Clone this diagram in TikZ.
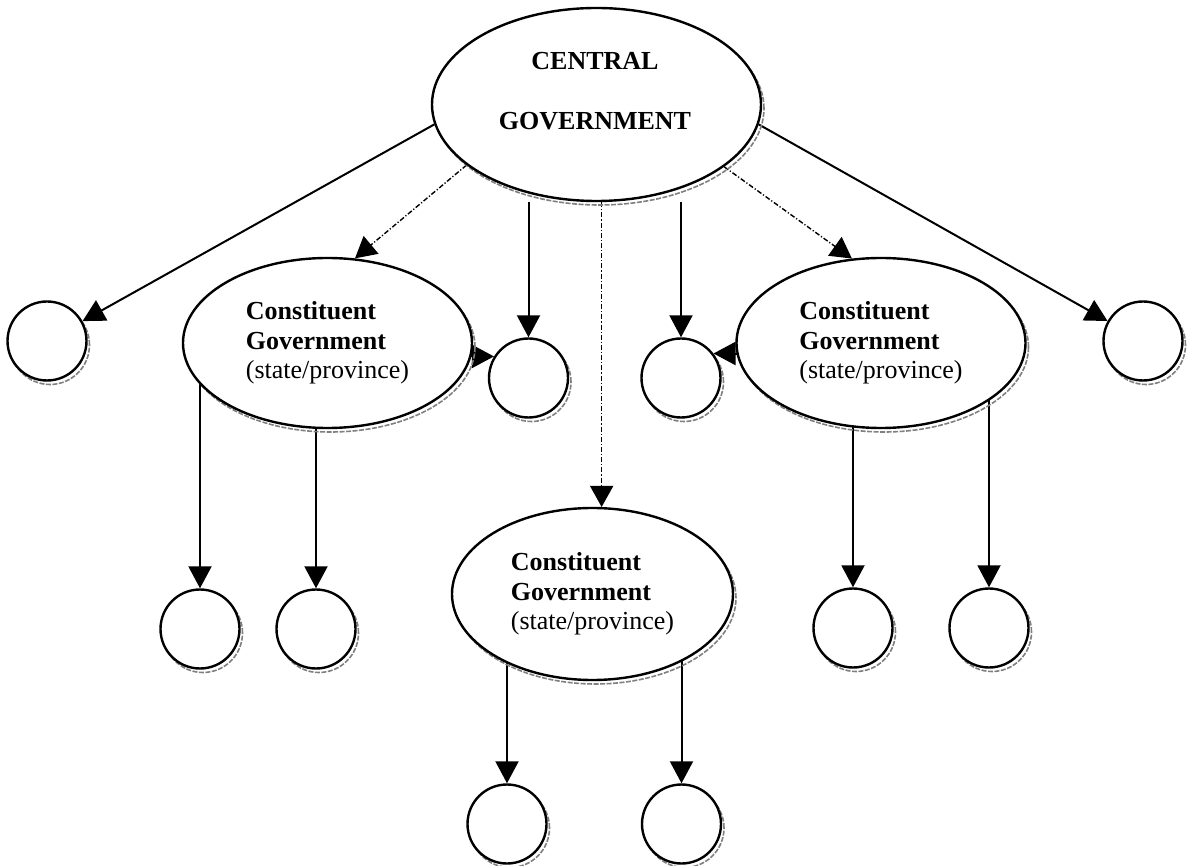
\documentclass[tikz,border=0pt]{standalone}
\usepackage{fontspec}
\setmainfont{Liberation Serif}
\usetikzlibrary{arrows.meta,shapes.geometric,shadows,backgrounds}

\begin{document}
\begin{tikzpicture}[x=1pt,y=-1pt,
  every node/.style={inner sep=0pt},
  shade ring/.style={drop shadow={shadow xshift=3pt, shadow yshift=-4pt,
      opacity=1, fill=none, draw=black!50, line width=1.6pt,
      dash pattern=on 5pt off 1.5pt}},
  bubble/.style={circle, draw, line width=2.4pt, fill=white,
      minimum size=79pt, shade ring},
  govoval/.style={ellipse, draw, line width=2.4pt, fill=white, shade ring},
  govtext/.style={font=\fontsize{26}{29.5}\selectfont, align=left},
  link/.style={line width=2pt, -{Triangle[length=22pt,width=23pt]}},
  dotlink/.style={line width=1.4pt, dash pattern=on 5pt off 2pt on 1.2pt off 2pt,
      -{Triangle[length=21pt,width=23pt]}},
]
\useasboundingbox (0,0) rectangle (1187,866);

% central government
\node[govoval, minimum width=329pt, minimum height=193pt] (cg) at (596.5,104.5) {};
\node[govtext, align=center] (cgtext) at (595,91.4)
  {\textbf{CENTRAL}\\[30.5pt]\textbf{GOVERNMENT}};

% constituent governments
\node[govoval, govtext, minimum width=289pt, minimum height=170pt] (lE) at (327.5,343)
  {\textbf{Constituent}\\\textbf{Government}\\(state/province)};
\node[govoval, govtext, minimum width=289pt, minimum height=170pt] (rE) at (881,343)
  {\textbf{Constituent}\\\textbf{Government}\\(state/province)};
\node[govoval, govtext, minimum width=281pt, minimum height=172pt] (mE) at (592.5,594)
  {\textbf{Constituent}\\\textbf{Government}\\(state/province)};

% local units
\node[bubble] (cL) at (47,341) {};
\node[bubble] (cA) at (528.5,378) {};
\node[bubble] (cB) at (681,378) {};
\node[bubble] (cR) at (1143,341) {};
\node[bubble] (d1) at (200,629) {};
\node[bubble] (d2) at (316,629) {};
\node[bubble] (d3) at (853,628) {};
\node[bubble] (d4) at (989,628) {};
\node[bubble] (e1) at (507,824) {};
\node[bubble] (e2) at (681.5,824) {};

% connectors
\begin{scope}[on background layer]
  \draw[link] (cg.187) -- (cL);
  \draw[link] (cg.353) -- (cR);
  \draw[dotlink] (cg.205) -- (lE.72);
  \draw[dotlink] (cg.334) -- (rE.109);
  \draw[link] (cg.south -| cA) -- (cA);
  \draw[link] (cg.south -| cB) -- (cB);
  \draw[dotlink] (cg.south -| mE.84) -- (mE.84);
  \draw[link] (lE.center |- cA.148) -- (cA.148);
  \draw[link] (rE.center |- cB.37) -- (cB.37);
  \draw[link] (lE.center -| d1) -- (d1);
  \draw[link] (lE.center -| d2) -- (d2);
  \draw[link] (rE.center -| d3) -- (d3);
  \draw[link] (rE.center -| d4) -- (d4);
  \draw[link] (mE.center -| e1) -- (e1);
  \draw[link] (mE.center -| e2) -- (e2);
\end{scope}
\end{tikzpicture}
\end{document}
